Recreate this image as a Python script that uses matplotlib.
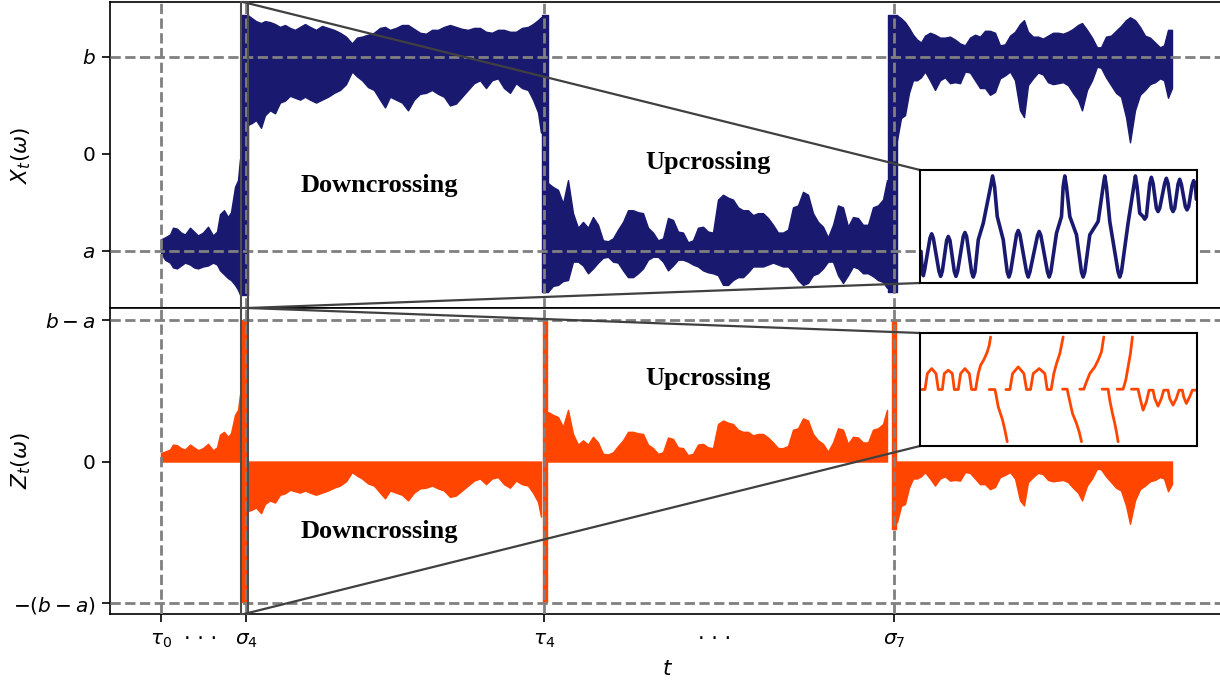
import matplotlib
matplotlib.use("Agg")
import matplotlib.pyplot as plt
import numpy as np
from matplotlib.patches import Rectangle, ConnectionPatch

# levels
A, B = -1.0, 1.0
# crossing times (tick positions)
tick_t = [0, 85, 383, 733]
tick_lbl = [r"$\tau_0$", r"$\sigma_4$", r"$\tau_4$", r"$\sigma_7$"]
dots_t = [40, 554]

# X_t envelope, section 1: tau0 -> sigma4 (waiting for upcrossing, near a)
t1 = [0, 4, 9, 12, 16, 20, 24, 29, 33, 37, 42, 47, 52, 56, 59, 63, 67, 70, 74, 77, 79]
x1_hi = [-0.88, -0.86, -0.83, -0.76, -0.77, -0.81, -0.83, -0.76, -0.80, -0.84, -0.81,
         -0.75, -0.84, -0.80, -0.62, -0.58, -0.65, -0.60, -0.34, -0.27, -0.05]
x1_lo = [-1.02, -1.09, -1.12, -1.17, -1.18, -1.15, -1.12, -1.14, -1.17, -1.18, -1.16,
         -1.15, -1.12, -1.14, -1.20, -1.24, -1.28, -1.30, -1.35, -1.40, -1.45]

# section 2: sigma4 -> tau4 (near b, downcrossing)
t2 = [87, 91, 95, 100, 104, 109, 114, 119, 124, 129, 134, 139, 144, 149, 155, 161, 167,
      173, 179, 185, 191, 196, 201, 207, 213, 219, 224, 229, 235, 241, 247, 253, 259, 265,
      271, 277, 283, 289, 295, 301, 307, 313, 319, 325, 331, 337, 343, 349, 355, 361, 367,
      372, 377, 380]
x2_hi = [1.43, 1.40, 1.37, 1.35, 1.37, 1.36, 1.34, 1.31, 1.33, 1.30, 1.28, 1.31, 1.34, 1.31,
         1.28, 1.32, 1.30, 1.28, 1.25, 1.21, 1.14, 1.20, 1.21, 1.23, 1.25, 1.30, 1.31, 1.28,
         1.30, 1.33, 1.33, 1.29, 1.25, 1.24, 1.28, 1.28, 1.31, 1.33, 1.31, 1.29, 1.28, 1.30,
         1.30, 1.26, 1.25, 1.28, 1.28, 1.26, 1.26, 1.30, 1.31, 1.34, 1.38, 1.41]
x2_lo = [0.30, 0.32, 0.35, 0.27, 0.40, 0.45, 0.42, 0.53, 0.55, 0.60, 0.58, 0.56, 0.59, 0.56,
         0.53, 0.56, 0.59, 0.63, 0.66, 0.72, 0.85, 0.80, 0.76, 0.69, 0.66, 0.56, 0.48, 0.59,
         0.56, 0.53, 0.45, 0.56, 0.62, 0.63, 0.66, 0.62, 0.59, 0.50, 0.52, 0.59, 0.66, 0.73,
         0.76, 0.68, 0.76, 0.78, 0.68, 0.63, 0.73, 0.68, 0.66, 0.56, 0.43, 0.22]

# section 3: tau4 -> sigma7 (near a, upcrossing)
t3 = [387, 392, 397, 402, 407, 412, 417, 422, 427, 432, 437, 442, 447, 452, 457, 462, 467,
      472, 477, 482, 487, 492, 497, 502, 507, 512, 517, 522, 527, 532, 537, 542, 547, 552,
      557, 562, 567, 572, 577, 582, 587, 592, 597, 602, 607, 612, 617, 622, 627, 632, 637,
      642, 647, 652, 657, 662, 667, 672, 677, 682, 687, 692, 697, 702, 707, 712, 717, 722, 726]
x3_hi = [-0.30, -0.34, -0.37, -0.51, -0.27, -0.61, -0.76, -0.70, -0.76, -0.65, -0.73, -0.89,
         -0.90, -0.87, -0.78, -0.70, -0.58, -0.58, -0.60, -0.61, -0.76, -0.81, -0.89, -0.87,
         -0.66, -0.68, -0.80, -0.81, -0.91, -0.89, -0.76, -0.75, -0.80, -0.81, -0.47, -0.42,
         -0.45, -0.47, -0.55, -0.58, -0.58, -0.63, -0.61, -0.61, -0.66, -0.73, -0.81, -0.81,
         -0.78, -0.55, -0.53, -0.39, -0.42, -0.61, -0.70, -0.75, -0.86, -0.73, -0.53, -0.55,
         -0.75, -0.65, -0.66, -0.73, -0.73, -0.55, -0.53, -0.47, -0.27]
x3_lo = [-1.42, -1.36, -1.35, -1.31, -1.30, -1.11, -1.11, -1.15, -1.23, -1.18, -1.12, -1.07,
         -1.06, -1.11, -1.12, -1.20, -1.27, -1.27, -1.23, -1.18, -1.09, -1.06, -1.06, -1.11,
         -1.20, -1.15, -1.09, -1.09, -1.11, -1.14, -1.16, -1.20, -1.22, -1.23, -1.25, -1.35,
         -1.35, -1.30, -1.27, -1.27, -1.22, -1.16, -1.16, -1.16, -1.14, -1.12, -1.14, -1.16,
         -1.16, -1.22, -1.30, -1.35, -1.33, -1.25, -1.23, -1.18, -1.11, -1.11, -1.25, -1.33,
         -1.25, -1.16, -1.18, -1.23, -1.23, -1.26, -1.30, -1.32, -1.38]

# section 4: after sigma7 (near b)
t4 = [736, 740, 744, 748, 752, 756, 760, 764, 769, 774, 779, 784, 789, 794, 799, 804, 809,
      814, 819, 824, 829, 834, 839, 844, 849, 854, 859, 863, 867, 872, 877, 882, 887, 892,
      897, 902, 907, 912, 917, 921, 926, 931, 936, 940, 945, 950, 955, 960, 965, 969, 974,
      979, 984, 989, 994, 999, 1003, 1007, 1011]
x4_hi = [1.43, 1.40, 1.36, 1.30, 1.23, 1.18, 1.15, 1.22, 1.25, 1.23, 1.20, 1.20, 1.21, 1.18,
         1.14, 1.12, 1.20, 1.23, 1.21, 1.27, 1.27, 1.25, 1.12, 1.13, 1.22, 1.26, 1.34, 1.38,
         1.26, 1.21, 1.21, 1.19, 1.22, 1.25, 1.25, 1.24, 1.26, 1.29, 1.33, 1.35, 1.28, 1.20,
         1.10, 1.10, 1.21, 1.22, 1.27, 1.32, 1.38, 1.41, 1.38, 1.31, 1.22, 1.20, 1.15, 1.10,
         1.12, 1.28, 1.28]
x4_lo = [0.14, 0.37, 0.40, 0.63, 0.76, 0.76, 0.79, 0.85, 0.76, 0.66, 0.76, 0.79, 0.73, 0.74,
         0.73, 0.85, 0.84, 0.76, 0.68, 0.68, 0.61, 0.64, 0.78, 0.81, 0.85, 0.76, 0.45, 0.38,
         0.71, 0.78, 0.84, 0.82, 0.74, 0.72, 0.73, 0.74, 0.71, 0.63, 0.56, 0.45, 0.66, 0.76,
         0.90, 0.89, 0.79, 0.71, 0.63, 0.59, 0.38, 0.12, 0.45, 0.61, 0.66, 0.72, 0.74, 0.78,
         0.76, 0.58, 0.68]

# fast transitions at the crossings
band_t0 = [80, 381, 727]
band_t1 = [87, 387, 736]
band_lo = [-1.45, -1.42, -1.42]
band_hi = [1.43, 1.43, 1.43]
# Z_t spikes at the crossings
zband_t0 = [81, 382, 731]
zband_t1 = [86, 386, 735]
zband_lo = [-1.98, -1.98, -0.96]
zband_hi = [2.0, 2.0, 2.0]

# zoomed window around sigma4
zoom_t = (80, 87)

# inset curves (inset-local units)
ins_x_t = [3, 6, 10, 14, 30, 35, 40, 57, 62, 67, 80, 85, 90, 103, 108, 113, 130, 135, 140,
           155, 160, 165, 175, 190, 212, 218, 224, 232, 250, 262, 267, 272, 290, 295, 300,
           320, 325, 330, 353, 358, 363, 383, 388, 393, 410, 425, 430, 435, 440, 450, 470,
           485, 490, 495, 510, 535, 550, 555, 560, 570, 595, 600, 605, 625, 642, 647, 652,
           660, 670, 675, 680, 690, 695, 700, 710, 715, 720, 735, 740, 745, 755, 760, 765,
           775, 780, 785, 797, 802, 807, 817, 822, 827, 830]
ins_x_v = [95, 45, 22, 40, 135, 148, 135, 35, 20, 35, 128, 140, 128, 35, 20, 35, 140, 152,
           140, 33, 18, 33, 130, 180, 290, 322, 290, 200, 130, 33, 18, 33, 146, 158, 146,
           33, 18, 33, 143, 155, 143, 33, 18, 33, 150, 200, 290, 322, 290, 200, 145,
           33, 18, 33, 145, 185, 290, 322, 290, 185, 33, 18, 33, 180, 290, 322, 290,
           210, 200, 192, 200, 300, 318, 300, 225, 215, 225, 300, 315, 300, 225, 215, 225,
           297, 312, 297, 230, 220, 230, 293, 308, 293, 252]
nan = np.nan
ins_z_t = [3, 15, 22, 35, 48, 55, 67, 73, 85, 97, 103, 115, 122, 135, 148, 155, 167, 175,
           182, 192, 202, 208, 212, nan,
           208, 225, 228, 235, 248, 255, 262, nan,
           258, 270, 278, 295, 312, 320, 332, 340, 358, 375, 382, 394, 402, 410, 420, 425,
           430, nan,
           428, 442, 448, 458, 470, 478, 485, nan,
           480, 492, 500, 510, 525, 535, 545, 552, nan,
           547, 565, 570, 578, 585, 590, 595, nan,
           592, 610, 618, 625, 632, 638, nan,
           635, 655, 660, 670, 680, 688, 700, 705, 715, 725, 732, 745, 750, 760, 770, 778,
           788, 792, 800, 810, 818, 830]
ins_z_v = [170, 170, 218, 233, 218, 170, 170, 218, 228, 218, 170, 170, 218, 233, 218, 170,
           170, 218, 243, 260, 283, 303, 328, nan,
           170, 170, 156, 118, 78, 48, 13, nan,
           170, 170, 218, 238, 218, 170, 170, 218, 233, 218, 170, 170, 218, 248, 278, 303,
           328, nan,
           171, 171, 143, 98, 68, 43, 13, nan,
           171, 171, 193, 218, 238, 258, 283, 328, nan,
           171, 171, 138, 98, 68, 43, 13, nan,
           171, 171, 198, 238, 278, 328, nan,
           171, 171, 148, 108, 133, 168, 168, 143, 120, 143, 168, 168, 143, 123, 143, 168,
           168, 148, 128, 148, 168, 168]

NAVY = "midnightblue"
ORANGE = "orangered"
GREY = "gray"
W, H = 1220, 681

fig = plt.figure(figsize=(W / 100, H / 100), dpi=100)
ax1 = fig.add_axes([110 / W, 1 - 308 / H, 1116 / W, 306 / H])
ax2 = fig.add_axes([110 / W, 1 - 614 / H, 1116 / W, 306 / H], sharex=ax1)

# top panel: X_t
for t, hi, lo in [(t1, x1_hi, x1_lo), (t2, x2_hi, x2_lo), (t3, x3_hi, x3_lo), (t4, x4_hi, x4_lo)]:
    ax1.fill_between(t, lo, hi, color=NAVY, lw=1.0, zorder=2)
for t0, t1_, lo, hi in zip(band_t0, band_t1, band_lo, band_hi):
    ax1.fill_between([t0, t1_], lo, hi, color=NAVY, lw=1.0, zorder=2)

# bottom panel: Z_t = X_t - level since last crossing
z1 = np.array(x1_hi) - A
z2 = np.array(x2_lo) - B
z3 = np.array(x3_hi) - A
z4 = np.array(x4_lo) - B
ax2.fill_between(t1, 0, z1, color=ORANGE, lw=1.0, zorder=2)
ax2.fill_between(t2, z2, 0, color=ORANGE, lw=1.0, zorder=2)
ax2.fill_between(t3, 0, z3, color=ORANGE, lw=1.0, zorder=2)
ax2.fill_between(t4, z4, 0, color=ORANGE, lw=1.0, zorder=2)
for t0, t1_, lo, hi in zip(zband_t0, zband_t1, zband_lo, zband_hi):
    ax2.fill_between([t0, t1_], lo, hi, color=ORANGE, lw=1.0, zorder=2)

# reference lines
for ax, levels in [(ax1, [A, B]), (ax2, [B - A, -(B - A)])]:
    for lv in levels:
        ax.axhline(lv, color=GREY, ls="--", lw=2, zorder=3)
    for t in tick_t:
        ax.axvline(t, color=GREY, ls="--", lw=2, zorder=3)
    ax.add_patch(Rectangle((zoom_t[0], 0), zoom_t[1] - zoom_t[0], 1,
                           transform=ax.get_xaxis_transform(), fill=False,
                           ec="0.3", lw=1.5, zorder=4, clip_on=False))
    for s in ax.spines.values():
        s.set_linewidth(1.2)
    ax.tick_params(labelsize=14.5, width=1.2, length=5.5, pad=5)

ax1.set_xlim(-51, 1065)
ax1.set_ylim(-1.588, 1.567)
ax2.set_ylim(-2.155, 2.17)

ax1.set_yticks([A, 0, B], [r"$a$", r"$0$", r"$b$"])
ax2.set_yticks([-(B - A), 0, B - A], [r"$-(b-a)$", r"$0$", r"$b-a$"])
ax1.tick_params(axis="x", labelbottom=False, length=0)
ax2.set_xticks(tick_t, tick_lbl)
ax2.tick_params(axis="x", pad=7)
for t in dots_t:
    ax2.text(t, -0.082, "\u00b7 \u00b7 \u00b7", transform=ax2.get_xaxis_transform(),
             ha="center", va="center", fontsize=15)
ax2.set_xlabel(r"$t$", fontsize=15.5, labelpad=6)
ax1.set_ylabel(r"$X_t(\omega)$", fontsize=15.5)
ax2.set_ylabel(r"$Z_t(\omega)$", fontsize=15.5)
ax1.yaxis.set_label_coords(-0.069, 0.5)
ax2.yaxis.set_label_coords(-0.069, 0.5)

lbl = dict(fontfamily="Liberation Serif", fontweight="bold", fontsize=19,
           ha="center", va="center", zorder=5)
ax1.text(218, -0.33, "Downcrossing", **lbl)
ax1.text(547, -0.09, "Upcrossing", **lbl)
ax2.text(547, 1.18, "Upcrossing", **lbl)
ax2.text(218, -0.99, "Downcrossing", **lbl)

# insets
ins1 = fig.add_axes([920 / W, 1 - 283 / H, 277 / W, 113 / H])
ins1.plot(ins_x_t, ins_x_v, color=NAVY, lw=2.6, solid_joinstyle="round", solid_capstyle="round")
ins1.set_xlim(0, 832)
ins1.set_ylim(0, 340)
ins2 = fig.add_axes([920 / W, 1 - 446 / H, 277 / W, 113 / H])
ins2.plot(ins_z_t, ins_z_v, color=ORANGE, lw=2.0, solid_joinstyle="round", solid_capstyle="round")
ins2.set_xlim(0, 832)
ins2.set_ylim(0, 340)
for ins in (ins1, ins2):
    ins.set_xticks([])
    ins.set_yticks([])
    ins.set_zorder(6)
    for s in ins.spines.values():
        s.set_linewidth(1.5)

# connector lines from the zoom window to the insets
conns = [(ax1, 82, 1, ins1, 1), (ax1, 87, 0, ins1, 0),
         (ax2, 87, 1, ins2, 1), (ax2, 83, 0, ins2, 0)]
for ax, tx, ay, ins, iy in conns:
    con = ConnectionPatch(xyA=(tx, ay), coordsA=ax.get_xaxis_transform(),
                          xyB=(0, iy), coordsB=ins.transAxes,
                          color="0.25", lw=1.6, zorder=5)
    fig.add_artist(con)

fig.savefig("out.png", dpi=100)
